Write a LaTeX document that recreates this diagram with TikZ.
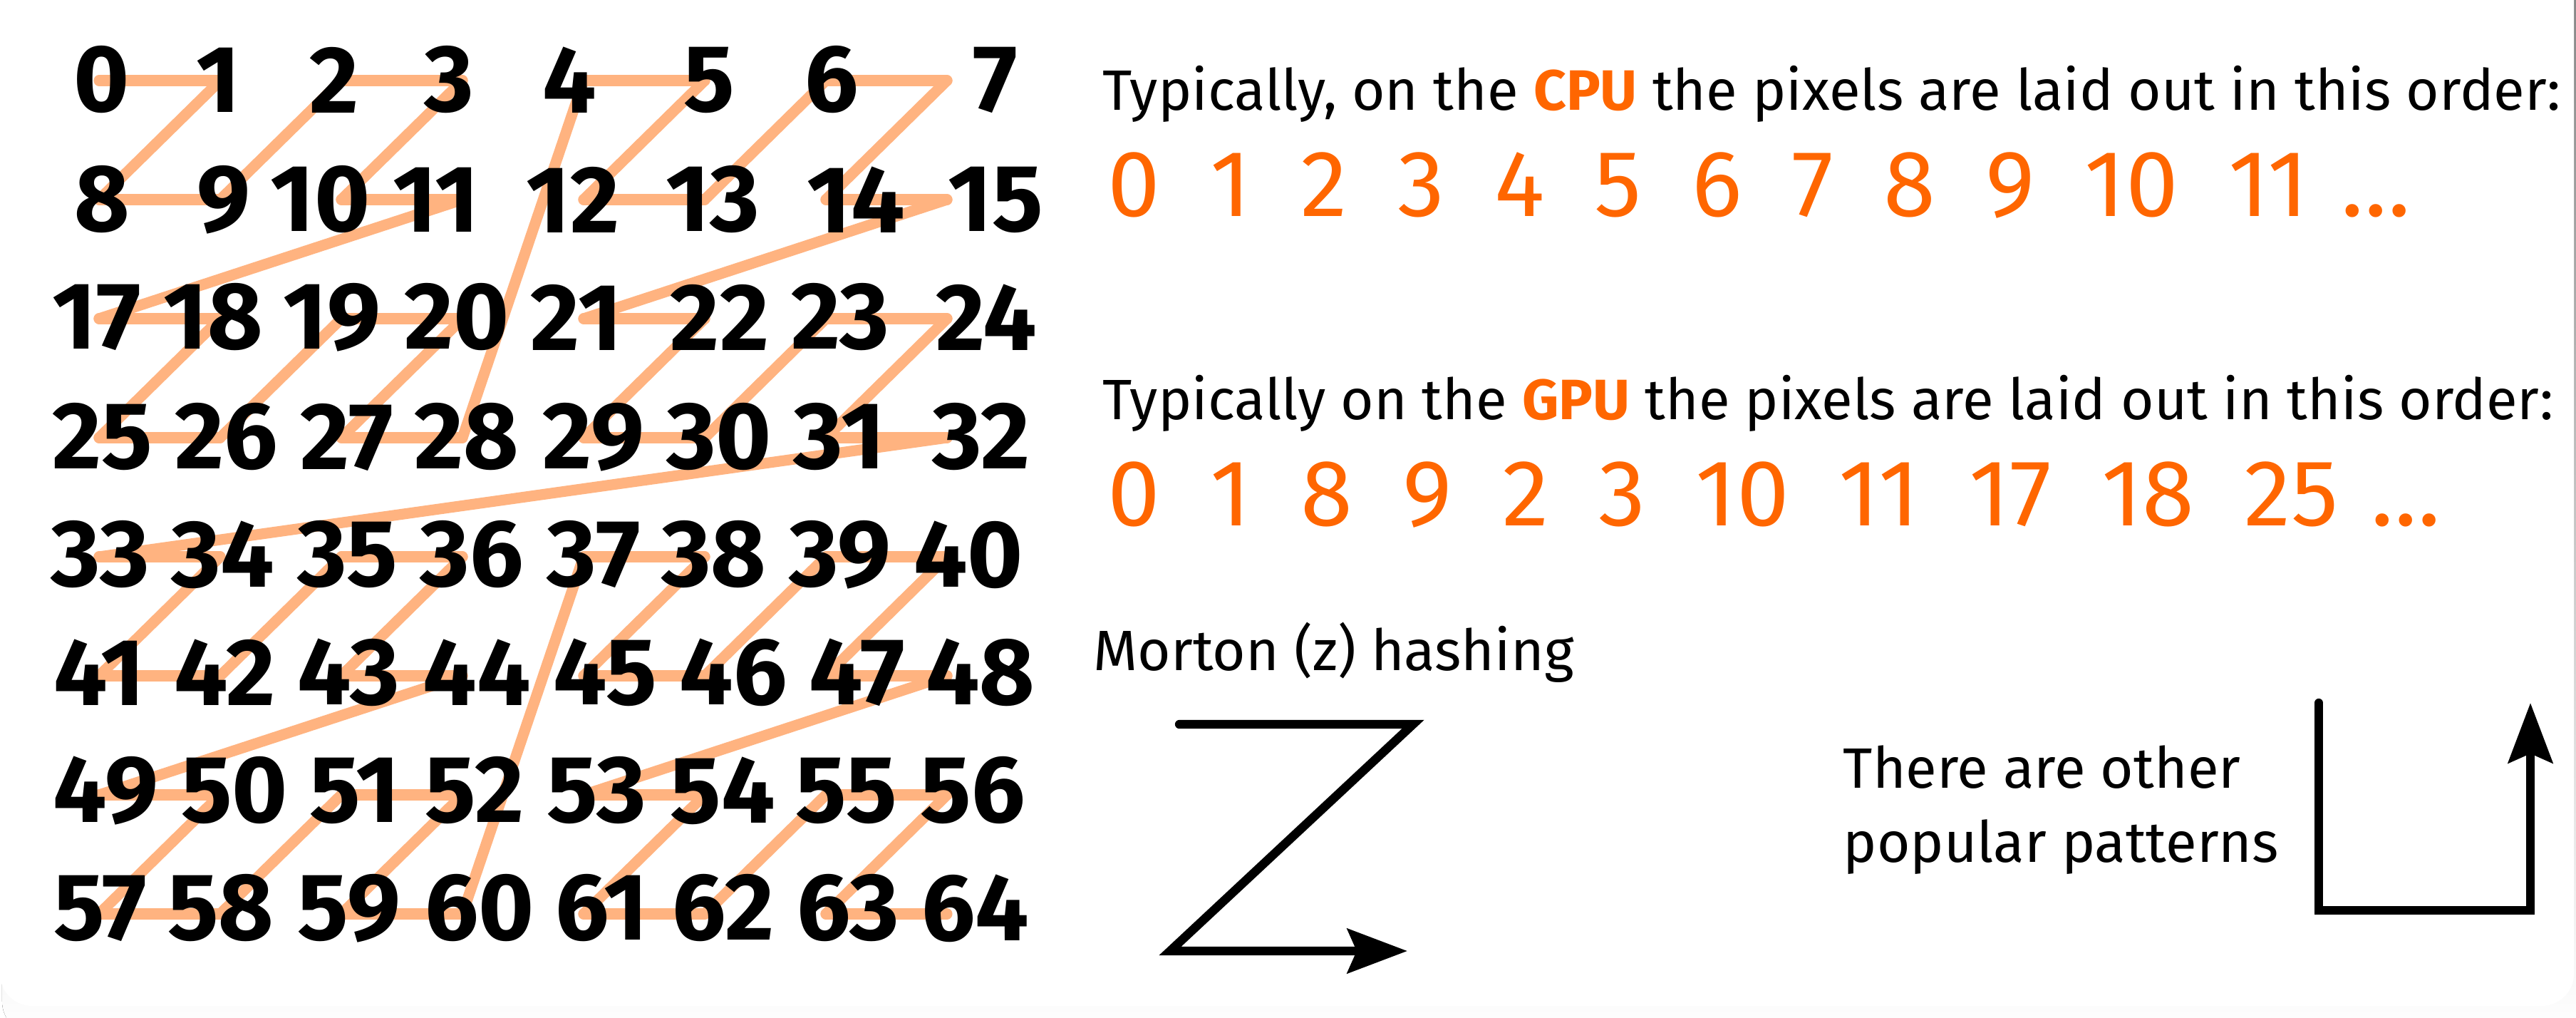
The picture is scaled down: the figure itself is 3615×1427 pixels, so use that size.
\documentclass[tikz,border=0pt]{standalone}
\usepackage{fontspec}
\setmainfont{Fira Sans}
\usetikzlibrary{positioning,arrows.meta}
\definecolor{peach}{HTML}{FFB380}
\definecolor{hot}{HTML}{FF6600}
\definecolor{shade}{HTML}{B3B3B3}
\newcommand\gridfont{\bfseries\fontsize{38}{40}\selectfont}
\newcommand\bodyfont{\fontsize{22.7}{29.3}\selectfont}
\newcommand\seqfont{\fontsize{37.6}{40}\selectfont\spaceskip=0.53em}
\newcommand\hl[1]{\textcolor{hot}{\bfseries #1}}

\begin{document}
\begin{tikzpicture}[x=0.01cm, y=-0.01cm,
    cell/.style={font=\gridfont, inner sep=0pt},
    zline/.style={peach, line width=4.3pt, line cap=round, line join=round},
    say/.style={font=\bodyfont, inner sep=0pt, anchor=base west},
    seq/.style={font=\seqfont, hot, inner sep=0pt, anchor=base west},
    glyph/.style={line width=3.5pt, line cap=round,
                  -{Stealth[length=8.4mm, width=6.2mm, inset=1.3mm]}}]
  \useasboundingbox (0,0) rectangle (3615,1427);
  % card with its shadow
  \fill[shade, rounded corners=0.45cm] (3,-100) rectangle (3640,1450);
  \fill[white, rounded corners=0.45cm] (0,-100) rectangle (3612,1411);

  % corners of the z-order walk
  \foreach \c in {0,...,7}
    \foreach \r in {0,...,7}
      \coordinate (z\c\r) at (139+170*\c, 113+167*\r);
  \foreach \i [evaluate=\i as \cx using {int(mod(\i,2)+2*mod(div(\i,4),2)+4*mod(div(\i,16),2))},
               evaluate=\i as \cy using {int(mod(div(\i,2),2)+2*mod(div(\i,8),2)+4*mod(div(\i,32),2))},
               remember=\cx as \px (initially 0),
               remember=\cy as \py (initially 0)] in {1,...,63}
    \draw[zline] (z\px\py) -- (z\cx\cy);

  % pixel numbers
  \foreach \n/\x in {0/143,1/306,2/469,3/630,4/799,5/995,6/1167,7/1397}
    \node[cell] (n\n) at (\x,112) {\n};
  \foreach \n/\x in {8/143,9/314,10/450,11/612,12/804,13/1000,14/1201,15/1397}
    \node[cell] (n\n) at (\x,280) {\n};
  \foreach \n/\x in {17/136,18/299,19/466,20/641,21/809,22/1010,23/1179,24/1384}
    \node[cell] (n\n) at (\x,445) {\n};
  \foreach \n/\x in {25/144,26/318,27/487,28/655,29/833,30/1009,31/1178,32/1377}
    \node[cell] (n\n) at (\x,613) {\n};
  \foreach \n/\x in {33/141,34/313,35/488,36/662,37/833,38/1002,39/1179,40/1359}
    \node[cell] (n\n) at (\x,778) {\n};
  \foreach \n/\x in {41/139,42/315,43/489,44/669,45/849,46/1029,47/1203,48/1376}
    \node[cell] (n\n) at (\x,943) {\n};
  \foreach \n/\x in {49/148,50/329,51/498,52/666,53/837,54/1014,55/1188,56/1365}
    \node[cell] (n\n) at (\x,1109) {\n};
  \foreach \n/\x in {57/141,58/310,59/490,60/673,61/844,62/1015,63/1190,64/1369}
    \node[cell] (n\n) at (\x,1274) {\n};

  % orders
  \node[say] (cpu) at (1547,154) {Typically, on the \hl{CPU} the pixels are laid out in this order:};
  \node[seq] (cpuseq) at (1554,303) {0 1 2 3 4 5 6 7 8 9 10 11\kern0.35em…};
  \node[say] (gpu) at (1547,588) {Typically on the \hl{GPU} the pixels are laid out in this order:};
  \node[seq] (gpuseq) at (1554,737) {0 1 8 9 2 3 10 11 17 18 25\kern0.35em…};

  % the two walks
  \node[say] (morton) at (1534,940) {Morton (z) hashing};
  \coordinate (za) at (1655,1016);
  \coordinate (zb) at (1983,1016);
  \coordinate (zc) at (1642,1334);
  \coordinate (zd) at (1975,1334);
  \draw[glyph] (za) -- (zb) -- (zc) -- (zd);

  \node[say, align=left] (other) at (2586,1209) {There are other\\popular patterns};
  \coordinate (ua) at (3254,986);
  \coordinate (ub) at (3254,1277);
  \coordinate (uc) at (3551,1277);
  \coordinate (ud) at (3551,986);
  \draw[glyph] (ua) -- (ub) -- (uc) -- (ud);
\end{tikzpicture}
\end{document}
